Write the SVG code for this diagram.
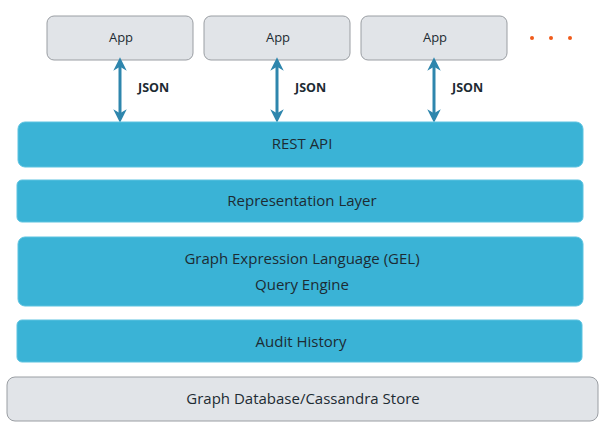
<svg xmlns="http://www.w3.org/2000/svg" width="608" height="427" viewBox="0 0 608 427">
<defs>
<marker id="ah" viewBox="0 0 10 10" refX="5" refY="5" markerWidth="4.5" markerHeight="4.5" orient="auto-start-reverse" markerUnits="strokeWidth">
<path d="M0,0 L10,5 L0,10 L3,5 z" fill="#2e86ad"/>
</marker>
<style>
.app{fill:#e1e4e8;stroke:#9a9ea3;stroke-width:1}
.layer{fill:#3ab3d6;stroke:#5cc3e0;stroke-width:1}
.t{font-family:"Open Sans","Liberation Sans",sans-serif;font-size:15px;fill:#1d2b33;text-anchor:middle}
.ts{font-family:"Open Sans","Liberation Sans",sans-serif;font-size:13px;fill:#1d2b33;text-anchor:middle}
.j{font-family:"Open Sans","Liberation Sans",sans-serif;font-size:12.5px;font-weight:bold;fill:#1d2b33}
.c{stroke:#2e86ad;stroke-width:3;fill:none;marker-start:url(#ah);marker-end:url(#ah)}
</style>
</defs>
<g id="app1"><rect class="app" x="47" y="16" width="146" height="44" rx="7"/><text class="ts" x="121" y="42">App</text></g>
<g id="app2"><rect class="app" x="204" y="16" width="146" height="44" rx="7"/><text class="ts" x="278" y="42">App</text></g>
<g id="app3"><rect class="app" x="361" y="16" width="146" height="44" rx="7"/><text class="ts" x="435" y="42">App</text></g>
<g id="more" fill="#f05a1a"><circle cx="532" cy="38" r="2"/><circle cx="551" cy="38" r="2"/><circle cx="570" cy="38" r="2"/></g>
<g id="connectors">
<line class="c" x1="120" y1="64" x2="120" y2="116"/>
<line class="c" x1="277" y1="64" x2="277" y2="116"/>
<line class="c" x1="434" y1="64" x2="434" y2="116"/>
<text class="j" x="138" y="92">JSON</text>
<text class="j" x="295" y="92">JSON</text>
<text class="j" x="452" y="92">JSON</text>
</g>
<g id="rest"><rect class="layer" x="18" y="122" width="565" height="45" rx="7"/><text class="t" x="302" y="149">REST API</text></g>
<g id="repr"><rect class="layer" x="17" y="180" width="566" height="42" rx="5"/><text class="t" x="302" y="206">Representation Layer</text></g>
<g id="gel"><rect class="layer" x="18" y="237" width="565" height="69" rx="7"/><text class="t" x="302" y="264">Graph Expression Language (GEL)</text><text class="t" x="302" y="290">Query Engine</text></g>
<g id="audit"><rect class="layer" x="17" y="320" width="565" height="42" rx="5"/><text class="t" x="301" y="347">Audit History</text></g>
<g id="store"><rect class="app" x="7" y="377" width="591" height="44" rx="8"/><text class="t" x="303" y="404">Graph Database/Cassandra Store</text></g>
</svg>
